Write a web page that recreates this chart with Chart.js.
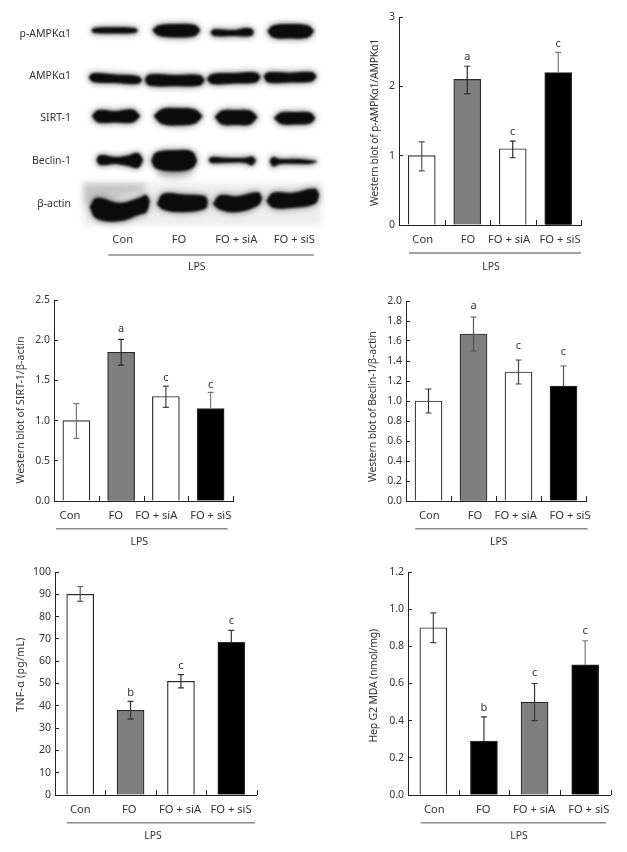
<!DOCTYPE html>
<html><head><meta charset="utf-8">
<style>
html,body{margin:0;padding:0;background:#fff;width:627px;height:852px;overflow:hidden}
canvas{position:absolute;display:block}
</style>
<script src="https://cdn.jsdelivr.net/npm/chart.js@4/dist/chart.umd.min.js"></script>
</head><body>
<script>
// ---------- data ----------
const categories = ["Con", "FO", "FO + siA", "FO + siS"];

const ampkValues = [1.0, 2.1, 1.1, 2.2];
const ampkUpper  = [1.2, 2.29, 1.21, 2.49];
const ampkLower  = [0.78, 1.89, 0.97, null];
const ampkLetters = ["", "a", "c", "c"];
const ampkTicks = ["0", "1", "2", "3"];

const sirtValues = [1.0, 1.85, 1.3, 1.15];
const sirtUpper  = [1.21, 2.01, 1.43, 1.35];
const sirtLower  = [0.78, 1.69, 1.165, null];
const sirtLetters = ["", "a", "c", "c"];
const sirtTicks = ["0.0", "0.5", "1.0", "1.5", "2.0", "2.5"];

const beclinValues = [1.0, 1.67, 1.29, 1.15];
const beclinUpper  = [1.12, 1.84, 1.41, 1.35];
const beclinLower  = [0.88, 1.5, 1.17, null];
const beclinLetters = ["", "a", "c", "c"];
const beclinTicks = ["0.0", "0.2", "0.4", "0.6", "0.8", "1.0", "1.2", "1.4", "1.6", "1.8", "2.0"];

const tnfValues = [90, 38, 51, 68.5];
const tnfUpper  = [93.5, 42, 54, 73.8];
const tnfLower  = [86.8, 34, 48, null];
const tnfLetters = ["", "b", "c", "c"];
const tnfTicks = ["0", "10", "20", "30", "40", "50", "60", "70", "80", "90", "100"];

const mdaValues = [0.9, 0.29, 0.5, 0.7];
const mdaUpper  = [0.98, 0.42, 0.6, 0.83];
const mdaLower  = [0.82, null, 0.4, null];
const mdaLetters = ["", "b", "c", "c"];
const mdaTicks = ["0.0", "0.2", "0.4", "0.6", "0.8", "1.0", "1.2"];

const groupLabel = "LPS";
const blotRows = ["p-AMPKα1", "AMPKα1", "SIRT-1", "Beclin-1", "β-actin"];

// blot band outlines: [gel position, upper edge, lower edge]
const pAmpkBands = [
  [[91.7,30.5,30.5],[94,28.5,32.5],[115,27.8,33],[135,28.5,32.5],[137.7,30.5,30.5]],
  [[152.7,30,30],[158,26,35],[175,24.5,37],[195,25.5,35.5],[200,30,30]],
  [[210.7,32,32],[214,29.8,35.5],[235,30.5,35.5],[245,28.5,36],[252,29.5,35],[253.3,32,32]],
  [[267.7,31,31],[273,26,37],[290,24.5,38],[308,26,37],[313.7,31,31]]];
const ampkBands = [
  [[89,77,77],[93,73.8,81.5],[115,75,82.5],[138,76.5,83.5],[141.7,80,80]],
  [[145,80,80],[149,75,85],[175,75.5,85.7],[200,75.5,85],[204.3,80,80]],
  [[207,79,79],[212,74.5,83.5],[235,73.5,83],[256,73,82],[260.3,77,77]],
  [[264,76,76],[268,72.8,82],[290,73.2,82],[312,72.5,81],[316.3,76,76]]];
const sirtBands = [
  [[92.3,116,116],[98,110.5,122],[115,111.5,122],[133,110,122],[140,116,116]],
  [[154,116,116],[162,109.5,123.5],[178,108.5,125],[195,110,123],[202.3,116,116]],
  [[215,117,117],[222,111,124],[236,110.5,124.5],[250,111,124],[257.3,117,117]],
  [[274.3,118,118],[281,113,123.5],[295,112.5,124],[310,113,123],[315,118,118]]];
const beclinBands = [
  [[96.7,160,160],[100,155.5,164.5],[115,157.5,163.5],[128,156,165.5],[138,153.5,167.5],[142.7,160,160]],
  [[151.7,161,161],[156,153,168],[175,150.7,171],[192,152,168],[196.7,161,161]],
  [[209,160,160],[211,157.5,162.5],[225,158.3,162.3],[245,158.3,162.3],[252,157,165],[255.7,160,160]],
  [[270,161,161],[273,157.5,166],[280,159.5,163.5],[295,159.3,163.3],[310,160.5,163.3],[316.7,161.5,161.5]]];
const actinBands = [
  [[90,207,207],[96.7,198.3,218.3],[120,203.3,220.7],[140,198,214],[146,195.5,212],[149.3,201,201]],
  [[157.3,204,204],[163.3,194.3,209.3],[183,195,211.7],[205,196.7,208.3],[207.3,202,202]],
  [[213.3,204,204],[220,195.7,209.3],[237,196.7,211.7],[258,192.7,205],[261.7,198,198]],
  [[266.7,201,201],[273,193.3,207.3],[293,193.3,207.3],[315,189,203.3],[318.7,195,195]]];
const gelBackdrop = [
  [[83,183,226],[322,183,226]],
  [[83,183,204],[110,183,200],[145,183,190]],
  [[158,169,177],[175,170,179],[192,169,176]]];

// ---------- layout and style ----------
const FONT = '"Noto Sans", sans-serif';
const INK = '#333';
const AXIS = '#222';
const WHITE = '#ffffff', GREY = '#7f7f7f', BLACK = '#000000';
const TEXT_SIZE = 10.5;
const CATEGORY_SIZE = 11.2;
const LABEL_AXIS_HEIGHT = 30;

function canvasAt(x, y, w, h, css) {
  const c = document.createElement('canvas');
  c.width = w; c.height = h;
  c.style.left = x + 'px'; c.style.top = y + 'px';
  c.style.width = w + 'px'; c.style.height = h + 'px';
  if (css) c.style.filter = css;
  document.body.appendChild(c);
  return c;
}

const decoration = {
  id: 'decoration',
  afterDatasetsDraw(chart, args, o) {
    const ctx = chart.ctx, p = o.panel;
    const meta = chart.getDatasetMeta(0), ys = chart.scales.y, xs = chart.scales.x;
    ctx.save();
    if (p.upper) {
      // category boundary ticks, pointing up into the plot
      ctx.strokeStyle = AXIS; ctx.lineWidth = 1;
      ctx.beginPath();
      for (let i = 1; i <= categories.length; i++) {
        const bx = Math.round(xs.getPixelForValue(i - 0.5)) + 0.5;
        ctx.moveTo(bx, xs.top); ctx.lineTo(bx, xs.top - 5);
      }
      ctx.stroke();
      p.upper.forEach((u, i) => {
        const x = meta.data[i].x, yU = ys.getPixelForValue(u);
        const hasLow = p.lower[i] !== null;
        const yL = ys.getPixelForValue(hasLow ? p.lower[i] : p.values[i]);
        ctx.strokeStyle = p.errColors[i]; ctx.lineWidth = 1.2;
        ctx.beginPath();
        ctx.moveTo(x, yU); ctx.lineTo(x, yL);
        ctx.moveTo(x - 3, yU); ctx.lineTo(x + 3, yU);
        if (hasLow) { ctx.moveTo(x - 3, yL); ctx.lineTo(x + 3, yL); }
        ctx.stroke();
        if (p.letters[i]) {
          ctx.fillStyle = INK; ctx.font = '11px ' + FONT;
          ctx.textAlign = 'center'; ctx.textBaseline = 'middle';
          ctx.fillText(p.letters[i], x, yU - p.letterGap[i]);
        }
      });
    }
    ctx.restore();
  },
  afterDraw(chart, args, o) {
    const ctx = chart.ctx, p = o.panel;
    ctx.save();
    ctx.strokeStyle = p.ruleColor; ctx.lineWidth = p.ruleWidth;
    ctx.beginPath();
    ctx.moveTo(p.rule[0] - p.cx, p.rule[2] - p.cy);
    ctx.lineTo(p.rule[1] - p.cx, p.rule[2] - p.cy);
    ctx.stroke();
    ctx.fillStyle = INK; ctx.font = TEXT_SIZE + 'px ' + FONT;
    ctx.textAlign = 'center'; ctx.textBaseline = 'middle';
    ctx.fillText(groupLabel, p.group[0] - p.cx, p.group[1] - p.cy);
    if (p.title) {
      ctx.letterSpacing = (p.title[3] || 0) + 'px';
      ctx.translate(p.title[1] - p.cx, p.title[2] - p.cy);
      ctx.rotate(-Math.PI / 2);
      ctx.fillText(p.title[0], 0, 0);
    }
    ctx.restore();
  }
};

function barPanel(p) {
  const canvas = canvasAt(p.cx, p.cy, p.cw, p.ch);
  new Chart(canvas, {
    type: 'bar',
    plugins: [decoration],
    data: {
      labels: categories,
      datasets: [{
        data: p.values,
        backgroundColor: p.fills,
        borderColor: '#2a2a2a',
        borderWidth: 1.2,
        barThickness: 27
      }]
    },
    options: {
      responsive: false, animation: false, devicePixelRatio: 1,
      layout: { padding: { left: 0, top: p.top - p.cy, right: p.cx + p.cw - p.right, bottom: p.cy + p.ch - p.bottom - LABEL_AXIS_HEIGHT } },
      plugins: { legend: { display: false }, tooltip: { enabled: false }, decoration: { panel: p } },
      scales: {
        x: {
          type: 'category', position: 'bottom', offset: true, weight: 0,
          grid: { offset: true, display: false, tickLength: 0 },
          border: { display: true, color: AXIS, width: 1 },
          ticks: { display: false },
          afterFit: s => { s.height = 0; s.paddingLeft = s.paddingRight = 0; }
        },
        labelAxis: {
          type: 'linear', position: 'bottom', min: p.left, max: p.right, weight: 1, offset: false,
          grid: { display: false, offset: false, tickLength: 0 }, border: { display: false },
          afterBuildTicks: s => { s.ticks = p.labelX.map(value => ({ value })); },
          ticks: {
            autoSkip: false, maxRotation: 0, minRotation: 0, padding: 8.5, color: INK,
            font: { family: FONT, size: CATEGORY_SIZE },
            callback: (v, i) => categories[i]
          },
          afterFit: s => { s.height = LABEL_AXIS_HEIGHT; s.paddingLeft = s.paddingRight = 0; }
        },
        y: {
          type: 'linear', position: 'left', min: 0, max: p.max,
          grid: { drawOnChartArea: false, tickLength: -4, color: AXIS, tickColor: AXIS, lineWidth: 1 },
          border: { color: AXIS, width: 1 },
          afterBuildTicks: s => { s.ticks = p.ticks.map(t => ({ value: +t })); },
          ticks: {
            autoSkip: false, padding: 8, color: INK,
            font: { family: FONT, size: TEXT_SIZE },
            callback: (v, i) => p.ticks[i]
          },
          afterFit: s => { s.width = p.left - p.cx; s.paddingTop = s.paddingBottom = 0; }
        }
      }
    }
  });
}

// ---------- blot ----------
const blotSets = [pAmpkBands, ampkBands, sirtBands, beclinBands, actinBands];
const blotRowY = [34.3, 76.3, 118.3, 161.3, 204];
const blotLaneX = [122.7, 179, 236.3, 294.3];

function bandDatasets(outline, color, width) {
  const line = {
    pointRadius: 0, tension: 0.4, clip: false, borderWidth: width, borderColor: color,
    backgroundColor: color
  };
  return [
    Object.assign({}, line, { data: outline.map(b => ({ x: b[0], y: b[1] })), fill: '+1' }),
    Object.assign({}, line, { data: outline.map(b => ({ x: b[0], y: b[2] })), fill: false })
  ];
}
function gelLayer(datasets, css) {
  const canvas = canvasAt(0, 0, 340, 285, css);
  new Chart(canvas, {
    type: 'line',
    data: { datasets },
    options: {
      responsive: false, animation: false, devicePixelRatio: 1,
      layout: { padding: 0 },
      plugins: { legend: { display: false }, tooltip: { enabled: false } },
      scales: {
        x: { type: 'linear', min: 0, max: 340, display: false },
        y: { type: 'linear', min: 0, max: 285, reverse: true, display: false }
      }
    }
  });
}
const backdropSets = [];
gelBackdrop.forEach((o, i) => {
  const color = ['#ededed', '#c4c4c4', '#c9c9c9'][i];
  backdropSets.unshift(...bandDatasets(o, color, 0));
});
// datasets are painted last to first, so the backdrop goes at the end
const haloSets = [];
blotSets.forEach(row => row.forEach(o => haloSets.push(...bandDatasets(o, 'rgba(70,70,70,.55)', 3))));
gelLayer(haloSets.concat(backdropSets), 'blur(3px)');
const bandSets = [];
blotSets.forEach(row => row.forEach(o => bandSets.push(...bandDatasets(o, '#0c0c0c', 1))));
gelLayer(bandSets, 'blur(0.8px)');

const blotPanel = { cx: 0, cy: 0, rule: [108.3, 313.7, 255], ruleColor: '#8a8a8a', ruleWidth: 1.6, group: [196.7, 266.7] };
new Chart(canvasAt(0, 0, 340, 285), {
  type: 'line',
  plugins: [decoration],
  data: { datasets: [{ data: [] }] },
  options: {
    responsive: false, animation: false, devicePixelRatio: 1,
    layout: { padding: { left: 0, top: 0, right: 0, bottom: 60 - LABEL_AXIS_HEIGHT } },
    plugins: { legend: { display: false }, tooltip: { enabled: false }, decoration: { panel: blotPanel } },
    scales: {
      x: {
        type: 'linear', position: 'bottom', min: 75, max: 340,
        grid: { display: false, tickLength: 0 }, border: { display: false },
        afterBuildTicks: s => { s.ticks = blotLaneX.map(value => ({ value })); },
        ticks: { autoSkip: false, maxRotation: 0, minRotation: 0, padding: 8.5, color: INK, font: { family: FONT, size: CATEGORY_SIZE }, callback: (v, i) => categories[i] },
        afterFit: s => { s.height = LABEL_AXIS_HEIGHT; s.paddingLeft = s.paddingRight = 0; }
      },
      y: {
        type: 'linear', position: 'left', min: 0, max: 225, reverse: true,
        grid: { display: false, tickLength: 0 }, border: { display: false },
        afterBuildTicks: s => { s.ticks = blotRowY.map(value => ({ value })); },
        ticks: { autoSkip: false, padding: 4, color: INK, font: { family: FONT, size: TEXT_SIZE }, callback: (v, i) => blotRows[i] },
        afterFit: s => { s.width = 75; s.paddingTop = s.paddingBottom = 0; }
      }
    }
  }
});

// ---------- bar panels ----------
barPanel({
  cx: 350, cy: 0, cw: 277, ch: 282, left: 399, right: 581, top: 17, bottom: 225,
  values: ampkValues, upper: ampkUpper, lower: ampkLower, letters: ampkLetters, ticks: ampkTicks, max: 3,
  fills: [WHITE, GREY, WHITE, BLACK],
  errColors: ['#555', '#2a2a2a', '#2a2a2a', '#777'],
  letterGap: [0, 9.4, 9.3, 8.7],
  labelX: [422.7, 468, 509, 560],
  rule: [409, 581, 253], ruleColor: '#444', ruleWidth: 1, group: [491, 267],
  title: ['Western blot of p-AMPKα1/AMPKα1', 374.7, 122.5, -0.28]
});
barPanel({
  cx: 0, cy: 285, cw: 300, ch: 270, left: 54, right: 233, top: 300, bottom: 501,
  values: sirtValues, upper: sirtUpper, lower: sirtLower, letters: sirtLetters, ticks: sirtTicks, max: 2.5,
  fills: [WHITE, GREY, WHITE, BLACK],
  errColors: ['#777', '#2a2a2a', '#444', '#777'],
  letterGap: [0, 10.3, 8.3, 7.7],
  labelX: [70, 115.7, 156.3, 210.7],
  rule: [56, 227.7, 528.7], ruleColor: '#8a8a8a', ruleWidth: 1.6, group: [139.3, 542.3],
  title: ['Western blot of SIRT-1/β-actin', 21, 410, 0]
});
barPanel({
  cx: 340, cy: 285, cw: 287, ch: 270, left: 406, right: 586, top: 301, bottom: 501,
  values: beclinValues, upper: beclinUpper, lower: beclinLower, letters: beclinLetters, ticks: beclinTicks, max: 2,
  fills: [WHITE, GREY, WHITE, BLACK],
  errColors: ['#333', '#555', '#444', '#555'],
  letterGap: [0, 11.6, 14.6, 14.6],
  labelX: [429.3, 475, 515.7, 570],
  rule: [415.3, 587.7, 528.7], ruleColor: '#8a8a8a', ruleWidth: 1.6, group: [498.7, 542.3],
  title: ['Western blot of Beclin-1/β-actin', 373.3, 406.7, -0.15]
});
barPanel({
  cx: 0, cy: 560, cw: 300, ch: 292, left: 55, right: 256.5, top: 572, bottom: 795,
  values: tnfValues, upper: tnfUpper, lower: tnfLower, letters: tnfLetters, ticks: tnfTicks, max: 100,
  fills: [WHITE, GREY, WHITE, BLACK],
  errColors: ['#555', '#333', '#333', '#333'],
  letterGap: [0, 8.2, 9, 10],
  labelX: [80.3, 129.3, 180, 231],
  rule: [66.7, 255, 822.7], ruleColor: '#8a8a8a', ruleWidth: 1.6, group: [153, 836],
  title: ['TNF-α (pg/mL)', 21.3, 674.5, 0.3]
});
barPanel({
  cx: 340, cy: 560, cw: 287, ch: 292, left: 408, right: 610.5, top: 572, bottom: 795,
  values: mdaValues, upper: mdaUpper, lower: mdaLower, letters: mdaLetters, ticks: mdaTicks, max: 1.2,
  fills: [WHITE, BLACK, GREY, BLACK],
  errColors: ['#444', '#333', '#333', '#777'],
  letterGap: [0, 9, 10.5, 9.5],
  labelX: [434.3, 483.3, 534, 588.7],
  rule: [420.7, 606, 822.7], ruleColor: '#8a8a8a', ruleWidth: 1.6, group: [519, 836],
  title: ['Hep G2 MDA (nmol/mg)', 374, 685.7, -0.2]
});
</script>
</body></html>
